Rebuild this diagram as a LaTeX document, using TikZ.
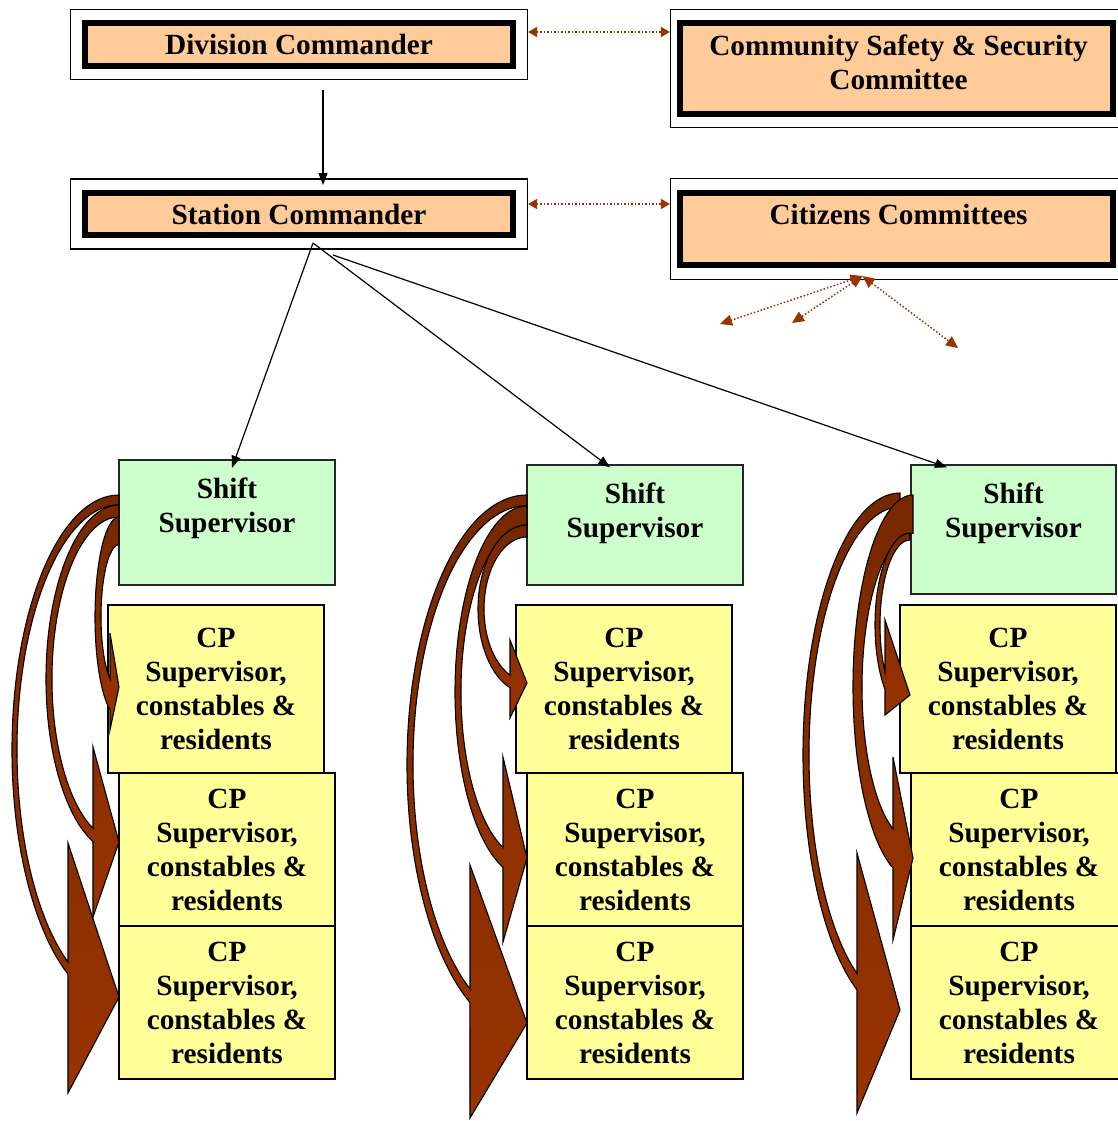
\documentclass[tikz,border=0pt]{standalone}
\usepackage{fontspec}
\setmainfont{Liberation Serif}
\usetikzlibrary{arrows.meta,positioning,fit}
\definecolor{peach}{HTML}{FFCC99}
\definecolor{mintgreen}{HTML}{CCFFCC}
\definecolor{paleyellow}{HTML}{FFFF99}
\definecolor{rust}{HTML}{993300}
\definecolor{darkrust}{HTML}{762800}
\newcommand{\bigbold}{\fontsize{29.3}{34}\selectfont\bfseries}
\newcommand{\cptext}{CP\\Supervisor,\\constables \&\\residents}

\tikzset{
  headbox/.style={draw=black, line width=6pt, fill=peach, inner sep=0pt, font=\bigbold},
  framebox/.style={draw=black, line width=1.2pt},
  shiftbox/.style={draw=black!85, line width=1.3pt, fill=mintgreen},
  cpbox/.style={draw=black, line width=1.4pt, fill=paleyellow, minimum width=216pt,
    align=center, inner sep=0pt, font=\bigbold},
  boxtext/.style={align=center, inner sep=0pt, font=\bigbold},
  cmdline/.style={draw=black, line width=1.2pt, -{Triangle[length=12pt,width=9pt]}},
  liaison/.style={draw=rust, line width=1.5pt, dash pattern=on 1.5pt off 2pt,
    {Triangle[length=9pt,width=10pt]}-{Triangle[length=9pt,width=10pt]}},
  outreach/.style={liaison, {Triangle[length=12pt,width=11pt]}-{Triangle[length=12pt,width=11pt]}},
  bentarrow/.style={draw=black, line width=1.1pt, top color=darkrust, middle color=rust, bottom color=rust}
}

\begin{document}
\begin{tikzpicture}[x=1pt,y=1pt]
\useasboundingbox (0,0) rectangle (1118,-1121);

% command boxes
\node[headbox, minimum width=428pt, minimum height=43pt] (dc) at (299,-44.5) {Division Commander};
\node[framebox, fit=(dc), inner xsep=11.5pt, inner ysep=10.5pt] (dcframe) {};
\node[headbox, minimum width=428pt, minimum height=42pt] (sc) at (299,-214) {Station Commander};
\node[framebox, fit=(sc), inner xsep=11.5pt, inner ysep=11pt] (scframe) {};

% committees
\node[headbox, minimum width=433pt, minimum height=91pt] (csc) at (896.5,-68.5) {};
\node[framebox, fit=(csc), inner xsep=6.5pt, inner ysep=10.5pt] (cscframe) {};
\node[boxtext] (csctext) at ([xshift=2pt,yshift=6pt]csc.center) {Community Safety \& Security\\Committee};
\node[headbox, minimum width=433pt, minimum height=72pt] (cc) at (896.5,-229) {};
\node[framebox, fit=(cc), inner xsep=6.5pt, inner ysep=11.5pt] (ccframe) {};
\node[boxtext] (cctext) at ([xshift=2pt,yshift=15pt]cc.center) {Citizens Committees};

% shift supervisors
\node[shiftbox, minimum width=216pt, minimum height=125pt] (ss1) at (227,-522.5) {};
\node[shiftbox, minimum width=216pt, minimum height=120pt] (ss2) at (635,-525) {};
\node[shiftbox, minimum width=205pt, minimum height=129pt] (ss3) at (1013.5,-529.5) {};
\node[boxtext] (ss1text) at ([yshift=-48.6pt]ss1.north) {Shift\\Supervisor};
\node[boxtext] (ss2text) at ([yshift=-48.6pt]ss2.north) {Shift\\Supervisor};
\node[boxtext] (ss3text) at ([yshift=-48.6pt]ss3.north) {Shift\\Supervisor};

% CP teams
\node[cpbox, minimum height=168pt] (cp1a) at (216,-689) {\cptext};
\node[cpbox, minimum height=153pt] (cp1b) at (227,-849.5) {\cptext};
\node[cpbox, minimum height=153pt] (cp1c) at (227,-1002.5) {\cptext};
\node[cpbox, minimum height=168pt] (cp2a) at (624,-689) {\cptext};
\node[cpbox, minimum height=153pt] (cp2b) at (635,-849.5) {\cptext};
\node[cpbox, minimum height=153pt] (cp2c) at (635,-1002.5) {\cptext};
\node[cpbox, minimum height=168pt] (cp3a) at (1008,-689) {\cptext};
\node[cpbox, minimum height=153pt] (cp3b) at (1019,-849.5) {\cptext};
\node[cpbox, minimum height=153pt] (cp3c) at (1019,-1002.5) {\cptext};

% chain of command
\draw[cmdline] ([xshift=24pt,yshift=-10pt]dcframe.south) -- ([xshift=24pt,yshift=5pt]sc.north);
\coordinate (scfoot) at ([xshift=14pt,yshift=-5pt]sc.south);
\draw[cmdline] (scfoot) -- ([xshift=5pt,yshift=-8.5pt]ss1.north);
\draw[cmdline] (scfoot) -- ([xshift=-25pt,yshift=-3pt]ss2.north);
\draw[cmdline] ([xshift=34pt,yshift=-17pt]sc.south) -- ([xshift=-66.5pt,yshift=-3pt]ss3.north);

% liaison with committees
\draw[liaison] ([yshift=12.5pt]dcframe.east) -- ([yshift=12.5pt]dcframe.east -| cscframe.west);
\draw[liaison] ([yshift=10pt]scframe.east) -- ([yshift=10pt]scframe.east -| ccframe.west);
\coordinate (cchub) at ([xshift=-34pt,yshift=4pt]ccframe.south);
\coordinate (reach1) at (720,-324);
\coordinate (reach2) at (792,-323);
\coordinate (reach3) at (958,-348);
\draw[outreach] (cchub) -- (reach1);
\draw[outreach] (cchub) -- (reach2);
\draw[outreach] (cchub) -- (reach3);

% curved arrows, column 1
\path[bentarrow] (119,-495) arc[start angle=90, end angle=241.5, x radius=107, y radius=255]
  -- (68,-1093) -- (119,-997) -- (68,-843) -- (68,-962)
  arc[start angle=240, end angle=90, x radius=102, y radius=245] -- cycle;
\path[bentarrow] (119,-505) arc[start angle=90, end angle=249.1, x radius=73, y radius=174]
  -- (93,-917) -- (119,-842) -- (93,-747) -- (93,-828.3)
  arc[start angle=247.2, end angle=90, x radius=67, y radius=162] -- cycle;
\path[bentarrow] (119,-517) arc[start angle=90, end angle=248, x radius=24, y radius=100]
  -- (110,-730) -- (119,-687) -- (110,-633) -- (110,-679)
  arc[start angle=240, end angle=90, x radius=18, y radius=72] -- cycle;

% curved arrows, column 2
\path[bentarrow] (527,-495) arc[start angle=90, end angle=241.6, x radius=120, y radius=270]
  -- (470,-1118) -- (527,-1023) -- (470,-865) -- (470,-989)
  arc[start angle=240, end angle=90, x radius=114, y radius=259] -- cycle;
\path[bentarrow] (527,-506) arc[start angle=90, end angle=250.5, x radius=72, y radius=186]
  -- (503,-942) -- (527,-858) -- (503,-757) -- (503,-847.6)
  arc[start angle=248.7, end angle=90, x radius=66, y radius=167] -- cycle;
\path[bentarrow] (527,-525) arc[start angle=90, end angle=249.7, x radius=49, y radius=84]
  -- (510,-718) -- (527,-683) -- (510,-640) -- (510,-675.1)
  arc[start angle=246.7, end angle=90, x radius=43, y radius=72] -- cycle;

% curved arrows, column 3
\path[bentarrow] (900,-493) arc[start angle=90, end angle=243.7, x radius=97, y radius=262]
  -- (857,-1113) -- (900,-1010) -- (857,-853) -- (857,-973.5)
  arc[start angle=241.8, end angle=90, x radius=91, y radius=248] -- cycle;
\path[bentarrow] (913,-495) arc[start angle=90, end angle=250.5, x radius=60, y radius=192]
  -- (893,-940) -- (913,-858) -- (893,-757) -- (893,-829)
  arc[start angle=246.9, end angle=90, x radius=51, y radius=154] -- cycle;
\path[bentarrow] (910,-533) arc[start angle=90, end angle=224.4, x radius=35, y radius=92]
  -- (885,-715) -- (910,-695) -- (885,-620) -- (885,-672)
  arc[start angle=213.6, end angle=90, x radius=30, y radius=85] -- cycle;
\end{tikzpicture}
\end{document}
